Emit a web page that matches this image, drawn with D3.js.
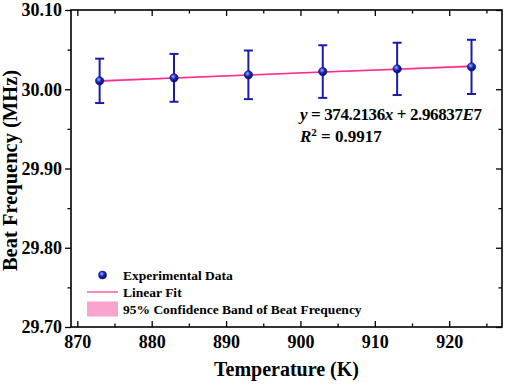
<!DOCTYPE html>
<html>
<head>
<meta charset="utf-8">
<script src="https://cdn.jsdelivr.net/npm/d3@7"></script>
<style>
  html, body { margin: 0; padding: 0; background: #fff; }
  svg text { font-family: "Liberation Serif", "Times New Roman", serif; font-weight: bold; }
</style>
</head>
<body>
<svg id="chart" width="505" height="387"></svg>
<script>
// data (MHz vs K)
const temperatures = [873, 883, 893, 903, 913, 923];
const beatFreq = [30.0106, 30.0144, 30.0182, 30.0223, 30.0257, 30.0282];
const beatErr = [0.0280, 0.0302, 0.0307, 0.0332, 0.0330, 0.0342];
const fitSlope = 374.2136;      // Hz per K
const fitIntercept = 2.96837e7; // Hz
const bandHalf = [0.0016, 0.0010, 0.0007, 0.0007, 0.0010, 0.0016];
const xTicks = [870, 880, 890, 900, 910, 920];
const yTicks = [29.70, 29.80, 29.90, 30.00, 30.10];
const legendLabels = ["Experimental Data", "Linear Fit", "95% Confidence Band of Beat Frequency"];

const width = 505, height = 387;
const margin = { top: 10, right: 3, bottom: 60, left: 71 };
const innerW = width - margin.left - margin.right;
const innerH = height - margin.top - margin.bottom;

const svg = d3.select("#chart");

const defs = svg.append("defs");
const grad = defs.append("radialGradient")
  .attr("id", "ball")
  .attr("cx", "40%").attr("cy", "35%").attr("r", "65%");
grad.append("stop").attr("offset", "0%").attr("stop-color", "#9fb4ff");
grad.append("stop").attr("offset", "45%").attr("stop-color", "#1f2fb8");
grad.append("stop").attr("offset", "100%").attr("stop-color", "#000070");

const g = svg.append("g").attr("transform", `translate(${margin.left},${margin.top})`);

const x = d3.scaleLinear().domain([869.15, 927.1]).range([0, innerW]);
const y = d3.scaleLinear().domain([29.70, 30.10]).range([innerH, 0]);

const fit = t => (fitSlope * t + fitIntercept) / 1e6;

// confidence band (very narrow around the fit)
const bandData = temperatures.map((t, i) => ({ t, lo: fit(t) - bandHalf[i], hi: fit(t) + bandHalf[i] }));
g.append("path")
  .datum(bandData)
  .attr("fill", "#f9a3cf")
  .attr("opacity", 0.8)
  .attr("d", d3.area().x(d => x(d.t)).y0(d => y(d.lo)).y1(d => y(d.hi)));

// fit line
g.append("path")
  .datum(temperatures)
  .attr("fill", "none")
  .attr("stroke", "#ff2a8f")
  .attr("stroke-width", 1.5)
  .attr("d", d3.line().x(d => x(d)).y(d => y(fit(d))));

// error bars
const pts = temperatures.map((t, i) => ({ t, v: beatFreq[i], e: beatErr[i] }));
const eb = g.selectAll(".err").data(pts).enter().append("g").attr("class", "err")
  .attr("stroke", "#1c1ca8").attr("stroke-width", 2);
eb.append("line")
  .attr("x1", d => x(d.t)).attr("x2", d => x(d.t))
  .attr("y1", d => y(d.v - d.e)).attr("y2", d => y(d.v + d.e));
eb.append("line")
  .attr("x1", d => x(d.t) - 4.5).attr("x2", d => x(d.t) + 4.5)
  .attr("y1", d => y(d.v + d.e)).attr("y2", d => y(d.v + d.e));
eb.append("line")
  .attr("x1", d => x(d.t) - 4.5).attr("x2", d => x(d.t) + 4.5)
  .attr("y1", d => y(d.v - d.e)).attr("y2", d => y(d.v - d.e));

g.selectAll(".pt").data(pts).enter().append("circle")
  .attr("class", "pt")
  .attr("cx", d => x(d.t)).attr("cy", d => y(d.v))
  .attr("r", 4.2)
  .attr("fill", "url(#ball)")
  .attr("stroke", "#10108a").attr("stroke-width", 0.6);

// axes
const minorX = d3.range(875, 927, 10);
const minorY = [29.75, 29.85, 29.95, 30.05];

const axBottom = g.append("g").attr("transform", `translate(0,${innerH})`)
  .call(d3.axisBottom(x).tickValues(xTicks).tickSize(-6).tickPadding(8).tickFormat(d3.format("d")));
axBottom.append("g").call(d3.axisBottom(x).tickValues(minorX).tickSize(-3.5).tickFormat(""));

const axTop = g.append("g")
  .call(d3.axisTop(x).tickValues(xTicks).tickSize(-6).tickFormat(""));
axTop.append("g").call(d3.axisTop(x).tickValues(minorX).tickSize(-3.5).tickFormat(""));

const axLeft = g.append("g")
  .call(d3.axisLeft(y).tickValues(yTicks).tickSize(6).tickPadding(3).tickFormat(d3.format(".2f")));
axLeft.append("g").call(d3.axisLeft(y).tickValues(minorY).tickSize(3.5).tickFormat(""));

const axRight = g.append("g").attr("transform", `translate(${innerW},0)`)
  .call(d3.axisRight(y).tickValues(yTicks).tickSize(-6).tickFormat(""));
axRight.append("g").call(d3.axisRight(y).tickValues(minorY).tickSize(-3.5).tickFormat(""));

g.selectAll(".domain").remove();
g.selectAll(".tick line").attr("stroke", "#000").attr("stroke-width", 1.3);
g.selectAll(".tick text")
  .attr("fill", "#000")
  .style("font-family", "'Liberation Serif', serif")
  .style("font-weight", "bold")
  .style("font-size", "18px");

g.append("rect")
  .attr("width", innerW).attr("height", innerH)
  .attr("fill", "none").attr("stroke", "#000").attr("stroke-width", 1.6);

// axis titles
svg.append("text")
  .attr("x", margin.left + innerW / 2).attr("y", 376)
  .attr("text-anchor", "middle")
  .style("font-size", "20px")
  .text("Temperature (K)");

svg.append("text")
  .attr("transform", `translate(17,${margin.top + innerH / 2 + 2}) rotate(-90)`)
  .attr("text-anchor", "middle")
  .style("font-size", "20.5px")
  .text("Beat Frequency (MHz)");

// fit equation
const eq = svg.append("text").attr("x", 300).attr("y", 120)
  .style("font-size", "17px").attr("textLength", 182).attr("lengthAdjust", "spacing");
eq.append("tspan").style("font-style", "italic").text("y");
eq.append("tspan").text(" = 374.2136");
eq.append("tspan").style("font-style", "italic").text("x");
eq.append("tspan").text(" + 2.96837");
eq.append("tspan").style("font-style", "italic").text("E");
eq.append("tspan").text("7");

const r2 = svg.append("text").attr("x", 300).attr("y", 142).style("font-size", "17px");
r2.append("tspan").style("font-style", "italic").text("R");
r2.append("tspan").attr("dy", -6).style("font-size", "11px").text("2");
r2.append("tspan").attr("dy", 6).text(" = 0.9917");

// legend
const leg = svg.append("g");
const rowY = [275, 292, 309];
leg.append("circle").attr("cx", 102.5).attr("cy", rowY[0]).attr("r", 4)
  .attr("fill", "url(#ball)").attr("stroke", "#10108a").attr("stroke-width", 0.6);
leg.append("line").attr("x1", 87).attr("x2", 118).attr("y1", rowY[1]).attr("y2", rowY[1])
  .attr("stroke", "#ff5aa8").attr("stroke-width", 1.5);
leg.append("rect").attr("x", 87).attr("y", rowY[2] - 7.5).attr("width", 31).attr("height", 15)
  .attr("fill", "#f9a3cf");
leg.selectAll(".lt").data(legendLabels).enter().append("text")
  .attr("class", "lt")
  .attr("x", 123).attr("y", (d, i) => rowY[i] + 4.5)
  .style("font-size", "13.5px")
  .text(d => d);
</script>
</body>
</html>
